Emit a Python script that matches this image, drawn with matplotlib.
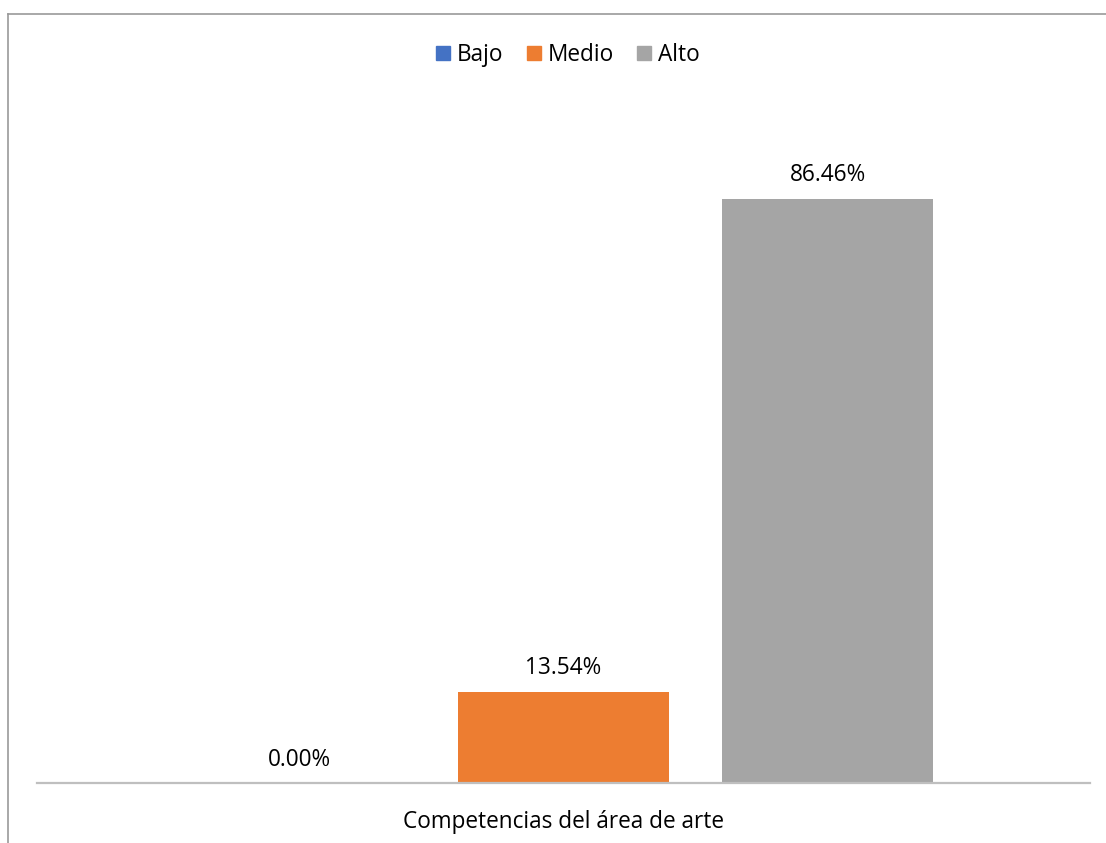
import matplotlib.pyplot as plt
from matplotlib.lines import Line2D
from matplotlib.patches import Patch

categories = ["Bajo", "Medio", "Alto"]
values = [0.00, 13.54, 86.46]
colors = ["#4472C4", "#ED7D31", "#A5A5A5"]
xlabel = "Competencias del área de arte"

W, H = 1106, 843
fig = plt.figure(figsize=(W / 100, H / 100), dpi=100)
plt.rcParams['font.family'] = ['Open Sans', 'DejaVu Sans']

ax = fig.add_axes([37 / W, 1 - 783 / H, (1090 - 37) / W, (783 - 107.5) / H])
pos = [-1, 0, 1]
bars = ax.bar(pos, values, width=0.8, color=colors)
for p, v in zip(pos, values):
    ax.text(p, v + 1.7, f"{v:.2f}%", ha="center", va="bottom", fontsize=16.3, color="#000000")

ax.set_xlim(-1.994, 1.994)
ax.set_ylim(0, 100)
ax.set_xticks([])
ax.set_yticks([])
for s in ["top", "left", "right"]:
    ax.spines[s].set_visible(False)
ax.spines["bottom"].set_color("#BFBFBF")
ax.spines["bottom"].set_linewidth(1.6)

fig.text(563.5 / W, 1 - 822 / H, xlabel, ha="center", va="center", fontsize=16.3)

handles = [Patch(facecolor=c, edgecolor=c) for c in colors]
fig.legend(handles, categories, loc="center", bbox_to_anchor=(568 / W, 1 - 55 / H),
           ncol=3, frameon=False, fontsize=16.3, handlelength=0.6, handleheight=0.6,
           handletextpad=0.3, columnspacing=1.05)

# outer border (top and left only visible)
fig.add_artist(Line2D([7.5 / W, 1], [1 - 14 / H, 1 - 14 / H], color="#999999", lw=1.2))
fig.add_artist(Line2D([7.5 / W, 7.5 / W], [0, 1 - 14 / H], color="#999999", lw=1.2))

fig.savefig("out.png", dpi=100, facecolor="white")
